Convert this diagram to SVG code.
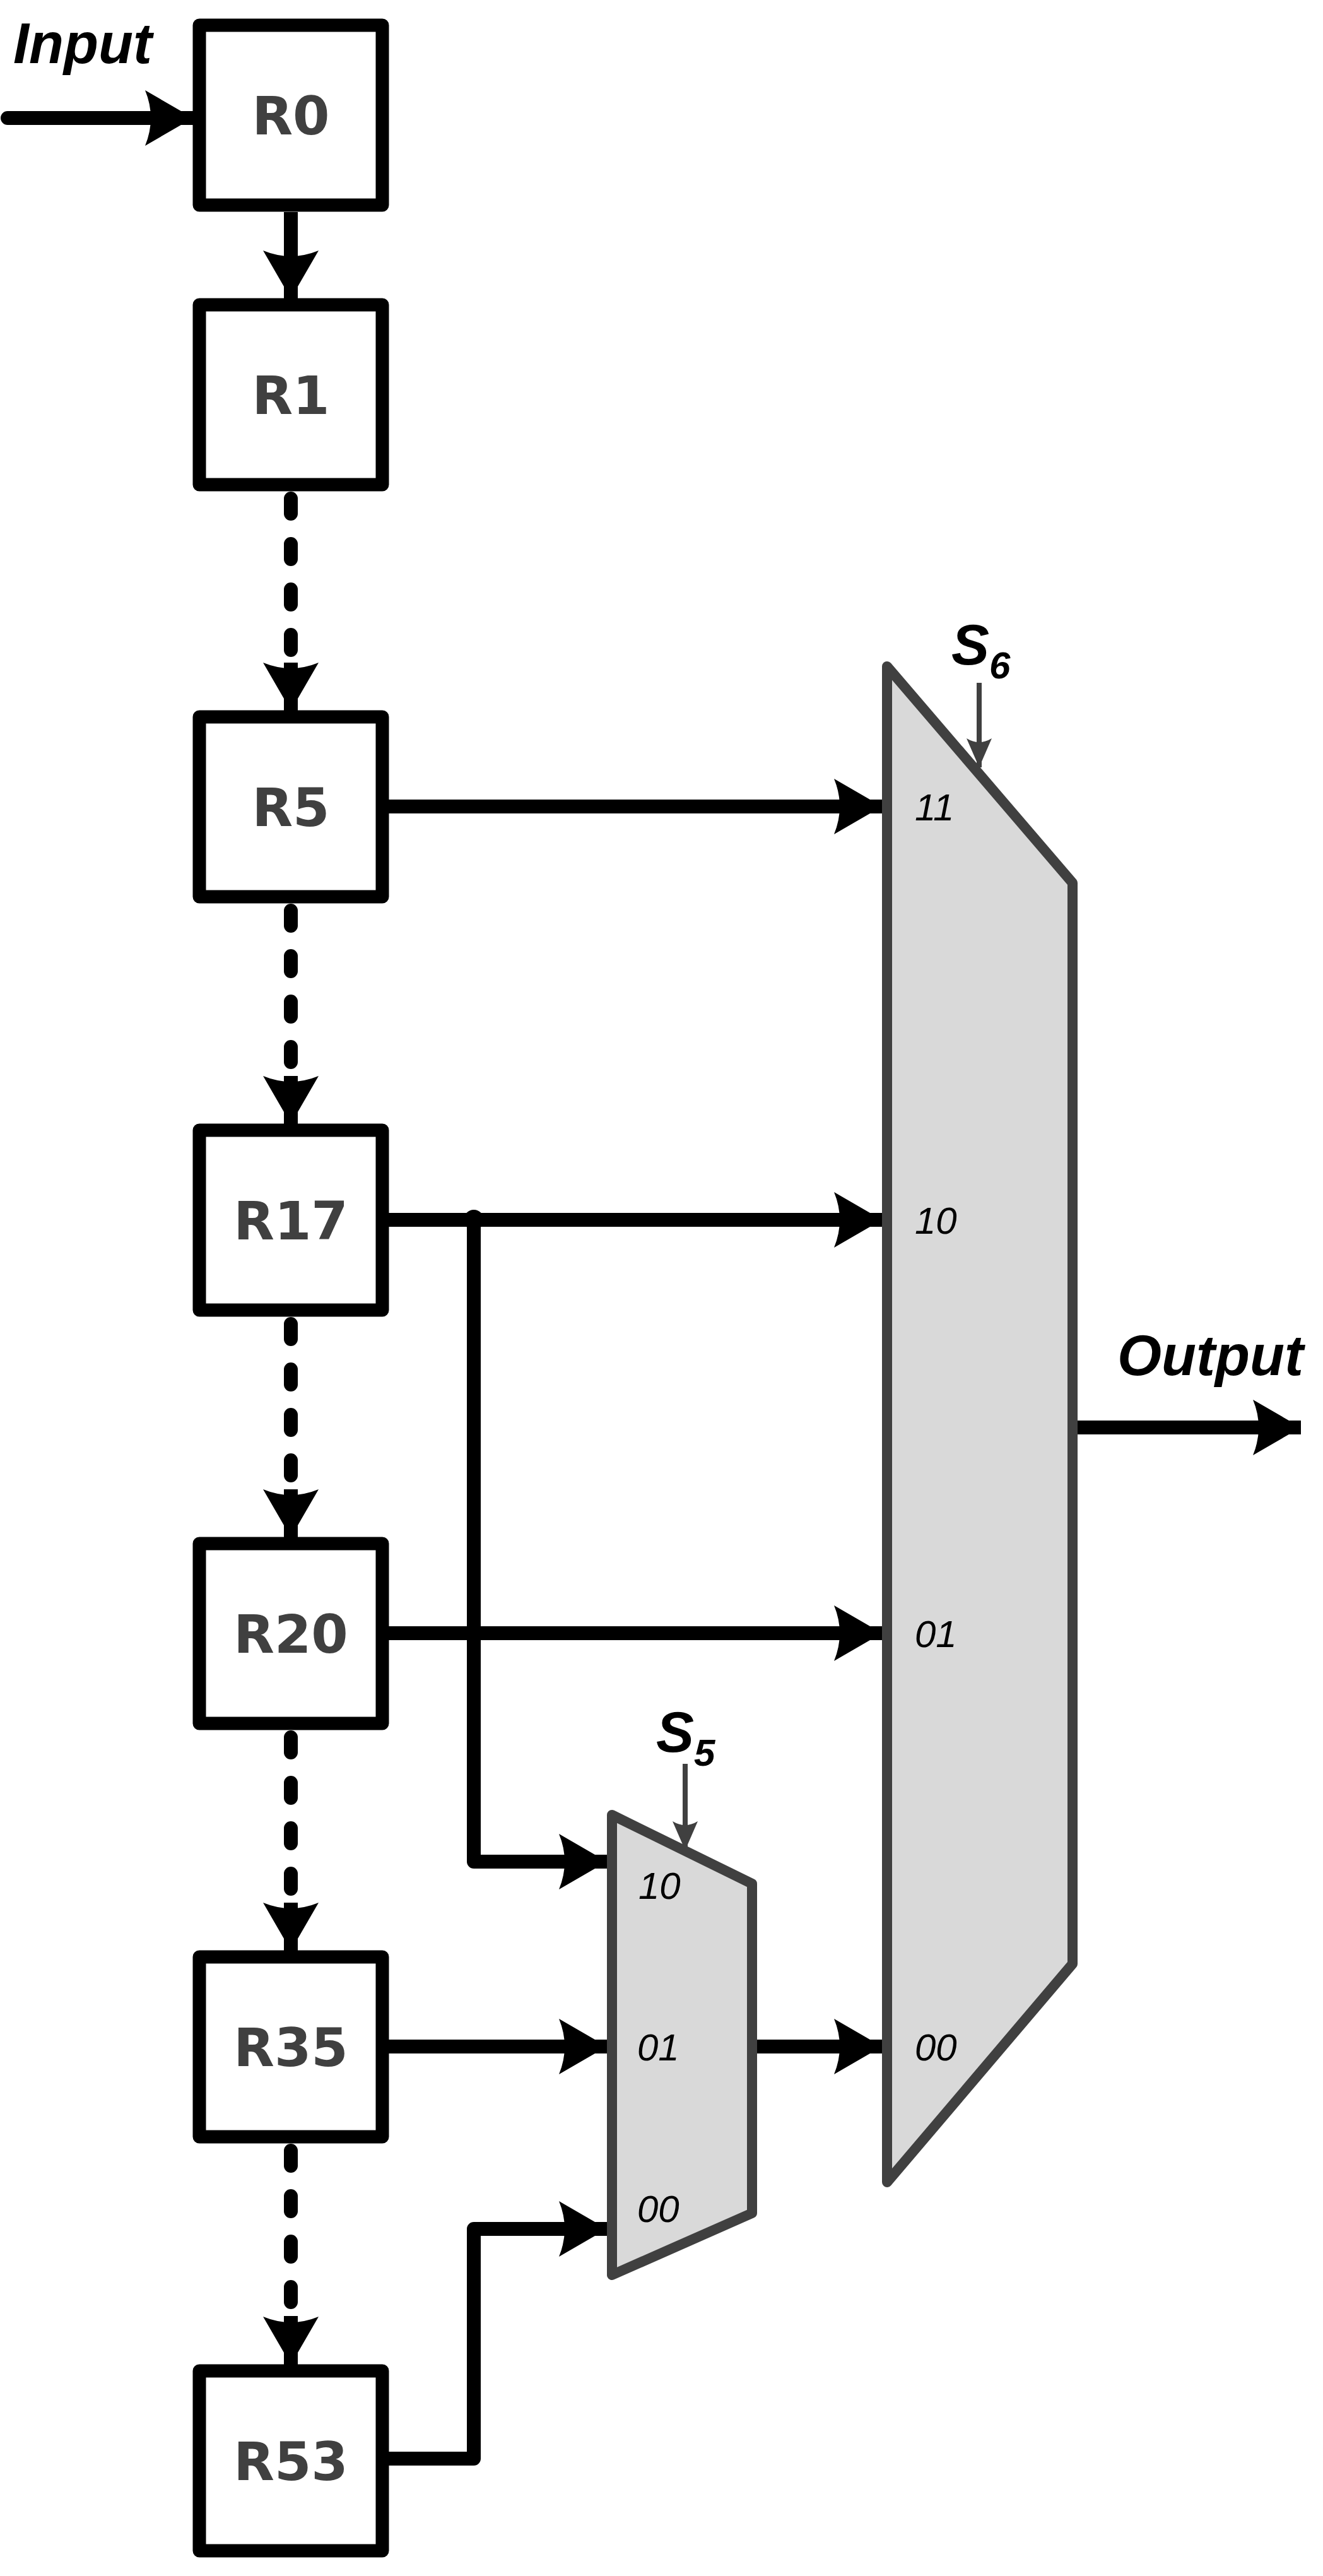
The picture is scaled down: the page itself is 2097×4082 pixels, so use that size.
<svg xmlns="http://www.w3.org/2000/svg" width="2097" height="4082" viewBox="0 0 2097 4082">
<style>
.box{fill:#fff;stroke:#000;stroke-width:21;stroke-linejoin:round}
.rl{font-family:"DejaVu Sans","Liberation Sans",sans-serif;font-weight:bold;font-size:84px;fill:#404040;text-anchor:middle}
.w{fill:none;stroke:#000;stroke-width:22;stroke-linejoin:round}
.d{fill:none;stroke:#000;stroke-width:22;stroke-linecap:round;stroke-dasharray:24 48}
.mux{fill:#d9d9d9;stroke:#404040;stroke-width:16;stroke-linejoin:round}
.pl{font-family:"Liberation Sans",Arial,sans-serif;font-style:italic;font-size:60px;fill:#000}
.big{font-family:"Liberation Sans",Arial,sans-serif;font-style:italic;font-weight:bold;font-size:90px;fill:#000}
.sel{fill:none;stroke:#404040;stroke-width:8}
</style>
<defs>
<marker id="ah" markerUnits="userSpaceOnUse" viewBox="-76 -46 78 92" refX="0" refY="0" markerWidth="78" markerHeight="92" orient="auto">
<path d="M0,0 L-76,-44 Q-58,0 -76,44 Z" fill="#000"/>
</marker>
<marker id="ahg" markerUnits="userSpaceOnUse" viewBox="-46 -22 48 44" refX="0" refY="0" markerWidth="48" markerHeight="44" orient="auto">
<path d="M0,0 L-46,-20 Q-34,0 -46,20 Z" fill="#404040"/>
</marker>
</defs>
<g id="connectors">
<line class="w" x1="12" y1="187" x2="306" y2="187" marker-end="url(#ah)" stroke-linecap="round"/>
<line class="w" x1="461" y1="336" x2="461" y2="473" marker-end="url(#ah)"/>
<line class="d" x1="461" y1="790" x2="461" y2="1060"/>
<line class="w" x1="461" y1="1050" x2="461" y2="1126" marker-end="url(#ah)"/>
<line class="d" x1="461" y1="1443" x2="461" y2="1715"/>
<line class="w" x1="461" y1="1705" x2="461" y2="1781" marker-end="url(#ah)"/>
<line class="d" x1="461" y1="2098" x2="461" y2="2370"/>
<line class="w" x1="461" y1="2360" x2="461" y2="2436" marker-end="url(#ah)"/>
<line class="d" x1="461" y1="2753" x2="461" y2="3025"/>
<line class="w" x1="461" y1="3015" x2="461" y2="3091" marker-end="url(#ah)"/>
<line class="d" x1="461" y1="3408" x2="461" y2="3680"/>
<line class="w" x1="461" y1="3670" x2="461" y2="3747" marker-end="url(#ah)"/>
<line class="w" x1="616" y1="1278" x2="1398" y2="1278" marker-end="url(#ah)"/>
<line class="w" x1="616" y1="1933" x2="1398" y2="1933" marker-end="url(#ah)"/>
<line class="w" x1="616" y1="2588" x2="1398" y2="2588" marker-end="url(#ah)"/>
<line class="w" x1="1192" y1="3243" x2="1398" y2="3243" marker-end="url(#ah)"/>
<polyline class="w" points="751,1933 751,2950 962,2950" marker-end="url(#ah)"/>
<line class="w" x1="616" y1="3243" x2="962" y2="3243" marker-end="url(#ah)"/>
<polyline class="w" points="616,3896 751,3896 751,3532 962,3532" marker-end="url(#ah)"/>
<circle cx="751" cy="1933" r="16" fill="#000"/>
<line class="w" x1="1700" y1="2262" x2="2062" y2="2262" marker-end="url(#ah)"/>
<line class="sel" x1="1552" y1="1082" x2="1552" y2="1216" marker-end="url(#ahg)"/>
<line class="sel" x1="1086" y1="2795" x2="1086" y2="2932" marker-end="url(#ahg)"/>
</g>
<g id="R0"><rect class="box" x="316" y="40" width="290" height="285"/><text class="rl" x="461" y="213">R0</text></g>
<g id="R1"><rect class="box" x="316" y="483" width="290" height="285"/><text class="rl" x="461" y="656">R1</text></g>
<g id="R5"><rect class="box" x="316" y="1136" width="290" height="285"/><text class="rl" x="461" y="1309">R5</text></g>
<g id="R17"><rect class="box" x="316" y="1791" width="290" height="285"/><text class="rl" x="461" y="1964">R17</text></g>
<g id="R20"><rect class="box" x="316" y="2446" width="290" height="285"/><text class="rl" x="461" y="2619">R20</text></g>
<g id="R35"><rect class="box" x="316" y="3101" width="290" height="285"/><text class="rl" x="461" y="3274">R35</text></g>
<g id="R53"><rect class="box" x="316" y="3757" width="290" height="285"/><text class="rl" x="461" y="3930">R53</text></g>
<g id="mux6">
<polygon class="mux" points="1406,1056 1700,1399 1700,3112 1406,3458"/>
<text class="pl" x="1450" y="1300">11</text>
<text class="pl" x="1450" y="1955">10</text>
<text class="pl" x="1450" y="2610">01</text>
<text class="pl" x="1450" y="3265">00</text>
<text class="big" x="1508" y="1053">S<tspan font-size="60" dy="22">6</tspan></text>
</g>
<g id="mux5">
<polygon class="mux" points="970,2876 1192,2985 1192,3507 970,3605"/>
<text class="pl" x="1012" y="3009">10</text>
<text class="pl" x="1010" y="3265">01</text>
<text class="pl" x="1010" y="3521">00</text>
<text class="big" x="1040" y="2776">S<tspan font-size="60" dy="22">5</tspan></text>
</g>
<g id="labels">
<text class="big" x="21" y="100">Input</text>
<text class="big" x="1771" y="2179">Output</text>
</g>
</svg>
